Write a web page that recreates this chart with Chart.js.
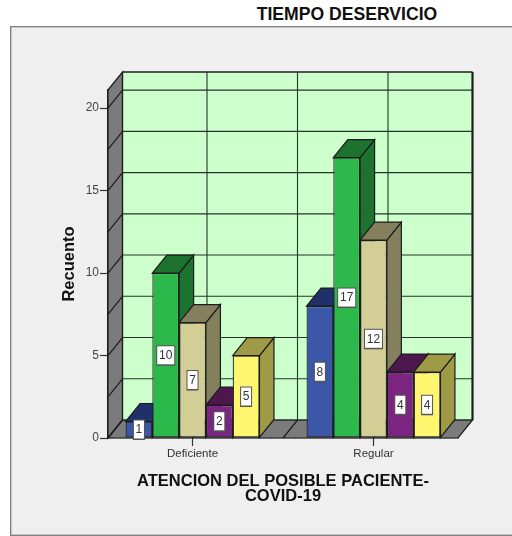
<!DOCTYPE html>
<html>
<head>
<meta charset="utf-8">
<style>
    html, body { margin: 0; padding: 0; background: #fff; overflow: hidden; }
    #panel { position: absolute; left: 10px; top: 26px; width: 520px; height: 508px; background: #efefef; border: 1px solid #808080; box-shadow: inset 0 0 0 0.5px #999; }
    #titulo { position: absolute; left: 200px; width: 294px; top: 4px; text-align: center; font: bold 17.6px "Liberation Sans", Arial, sans-serif; color: #111; white-space: nowrap; }
    canvas { position: absolute; left: 0; top: 0; }
</style>
</head>
<body>
<div id="panel"></div>
<div id="titulo">TIEMPO DESERVICIO</div>
<canvas id="grafico" width="512" height="536"></canvas>
<script src="https://cdn.jsdelivr.net/npm/chart.js@4"></script>
<script>
const categorias = ['Deficiente', 'Regular'];
const serie1 = [1, 8];
const serie2 = [10, 17];
const serie3 = [7, 12];
const serie4 = [2, 4];
const serie5 = [5, 4];
const yMax = 21.1;
const gridStep = 2.5;

const colores = [
    { front: '#3d57a8', dark: '#1f3168' },
    { front: '#2db84b', dark: '#1d722f' },
    { front: '#d3cd96', dark: '#84805d' },
    { front: '#7b2480', dark: '#4d174e' },
    { front: '#fff670', dark: '#9e9a45' }
];

// desplazamiento de la profundidad 3D
const depthX = 14.5;
const depthY = 18;
const lineColor = '#1c1c1c';

function poly(ctx, pts, fill, stroke, width) {
    ctx.beginPath();
    pts.forEach((p, i) => i ? ctx.lineTo(p[0], p[1]) : ctx.moveTo(p[0], p[1]));
    ctx.closePath();
    if (fill) {
        ctx.fillStyle = fill;
        ctx.fill();
    }
    if (stroke) {
        ctx.strokeStyle = stroke;
        ctx.lineWidth = width;
        ctx.stroke();
    }
}

function line(ctx, x1, y1, x2, y2, color, width) {
    ctx.beginPath();
    ctx.moveTo(x1, y1);
    ctx.lineTo(x2, y2);
    ctx.strokeStyle = color;
    ctx.lineWidth = width;
    ctx.stroke();
}

const caja3d = {
    id: 'caja3d',
    // paredes, suelo y rejilla
    beforeDatasetsDraw(chart) {
        const { ctx, chartArea: a, scales: { x, y } } = chart;
        const bottom = a.bottom, top = a.top, left = a.left, right = a.right;
        ctx.save();
        poly(ctx, [[left + depthX, top - depthY], [right + depthX, top - depthY], [right + depthX, bottom - depthY], [left + depthX, bottom - depthY]], '#ccffcc');
        poly(ctx, [[left, top], [left + depthX, top - depthY], [left + depthX, bottom - depthY], [left, bottom]], '#7b7b7b', lineColor, 1.2);
        poly(ctx, [[left, bottom], [left + depthX, bottom - depthY], [right + depthX, bottom - depthY], [right, bottom]], '#7b7b7b', lineColor, 1.2);

        for (let v = 0; v < yMax; v += gridStep) {
            const py = y.getPixelForValue(v);
            line(ctx, left + depthX, py - depthY, right + depthX, py - depthY, '#26352a', 1.1);
            line(ctx, left, py, left + depthX, py - depthY, lineColor, 1.2);
        }
        [0, 0.5, 1].forEach(v => {
            const px = x.getPixelForValue(v);
            line(ctx, px + depthX, top - depthY, px + depthX, bottom - depthY, '#26352a', 1.1);
            line(ctx, px, bottom, px + depthX, bottom - depthY, lineColor, 1.2);
        });
        line(ctx, left + depthX, top - depthY, right + depthX, top - depthY, lineColor, 1.4);
        line(ctx, left + depthX, top - depthY, left + depthX, bottom - depthY, lineColor, 1.2);
        line(ctx, right + depthX, top - depthY, right + depthX, bottom - depthY, lineColor, 2.2);
        ctx.restore();
    },
    // las series se pintan de izquierda a derecha para que cada barra tape la cara lateral de la anterior
    beforeDatasetDraw() {
        return false;
    },
    afterDatasetsDraw(chart) {
        const { ctx } = chart;
        const metas = chart.data.datasets.map((_, i) => chart.getDatasetMeta(i));
        ctx.save();
        for (let c = 0; c < categorias.length; c++) {
            metas.forEach((meta, i) => {
                const bar = meta.data[c];
                const l = bar.x - bar.width / 2, r = bar.x + bar.width / 2;
                poly(ctx, [[r, bar.y], [r + depthX, bar.y - depthY], [r + depthX, bar.base - depthY], [r, bar.base]], colores[i].dark, lineColor, 1.2);
                poly(ctx, [[l, bar.y], [l + depthX, bar.y - depthY], [r + depthX, bar.y - depthY], [r, bar.y]], colores[i].dark, lineColor, 1.2);
                bar.draw(ctx);
            });
        }
        // etiquetas de valor
        ctx.font = '12px "Liberation Sans", Arial, sans-serif';
        ctx.textAlign = 'center';
        ctx.textBaseline = 'middle';
        metas.forEach((meta, i) => {
            meta.data.forEach(bar => {
                const txt = String(chart.data.datasets[i].data[meta.data.indexOf(bar)].y);
                const w = txt.length > 1 ? 18 : 11, h = 19;
                const cy = (bar.y + bar.base) / 2;
                ctx.fillStyle = '#555';
                ctx.fillRect(bar.x - w / 2 - 0.5, cy - h / 2 - 0.5, w + 1, h + 1.5);
                ctx.fillStyle = '#fff';
                ctx.fillRect(bar.x - w / 2 + 0.5, cy - h / 2 + 0.5, w - 1, h - 1);
                ctx.fillStyle = '#333';
                ctx.fillText(txt, bar.x, cy + 0.5);
            });
        });
        ctx.restore();
    }
};

const series = [serie1, serie2, serie3, serie4, serie5];

new Chart(document.getElementById('grafico'), {
    type: 'bar',
    data: {
        datasets: series.map((valores, i) => ({
            data: valores.map((v, c) => ({ x: c, y: v })),
            backgroundColor: colores[i].front,
            borderColor: lineColor,
            borderWidth: 1.2,
            borderSkipped: false,
            categoryPercentage: 0.74,
            barPercentage: 1
        }))
    },
    options: {
        responsive: false,
        animation: false,
        layout: { padding: { left: 60, right: 54, top: 90, bottom: 32 } },
        plugins: {
            legend: { display: false },
            tooltip: { enabled: false },
            title: { display: false }
        },
        scales: {
            x: {
                type: 'linear',
                offset: false,
                min: -0.467,
                max: 1.467,
                afterBuildTicks: axis => { axis.ticks = categorias.map((_, i) => ({ value: i })); },
                afterFit: axis => { axis.height = 66; },
                grid: { drawOnChartArea: false, tickLength: 8, tickColor: '#333', tickWidth: 1.2, offset: false },
                border: { color: lineColor, width: 1.2 },
                ticks: {
                    autoSkip: false,
                    maxRotation: 0,
                    padding: 1,
                    color: '#333',
                    font: { family: '"Liberation Sans", Arial, sans-serif', size: 11.5 },
                    callback: v => categorias[v]
                },
                title: {
                    display: true,
                    text: ['ATENCION DEL POSIBLE PACIENTE-', 'COVID-19'],
                    color: '#111',
                    padding: 0,
                    font: { family: '"Liberation Sans", Arial, sans-serif', size: 16.5, weight: 'bold', lineHeight: 0.92 }
                }
            },
            y: {
                min: 0,
                max: yMax,
                afterBuildTicks: axis => { axis.ticks = axis.ticks.filter(t => t.value % 5 === 0); },
                afterFit: axis => { axis.width = 48; },
                grid: { drawOnChartArea: false, tickLength: 8, tickColor: '#333', tickWidth: 1.2 },
                border: { color: lineColor, width: 1.2 },
                ticks: {
                    stepSize: 5,
                    padding: 1,
                    color: '#444',
                    font: { family: '"Liberation Sans", Arial, sans-serif', size: 12 }
                },
                title: {
                    display: true,
                    text: 'Recuento',
                    color: '#111',
                    padding: 0,
                    font: { family: '"Liberation Sans", Arial, sans-serif', size: 16.5, weight: 'bold' }
                }
            }
        }
    },
    plugins: [caja3d]
});
</script>
</body>
</html>
